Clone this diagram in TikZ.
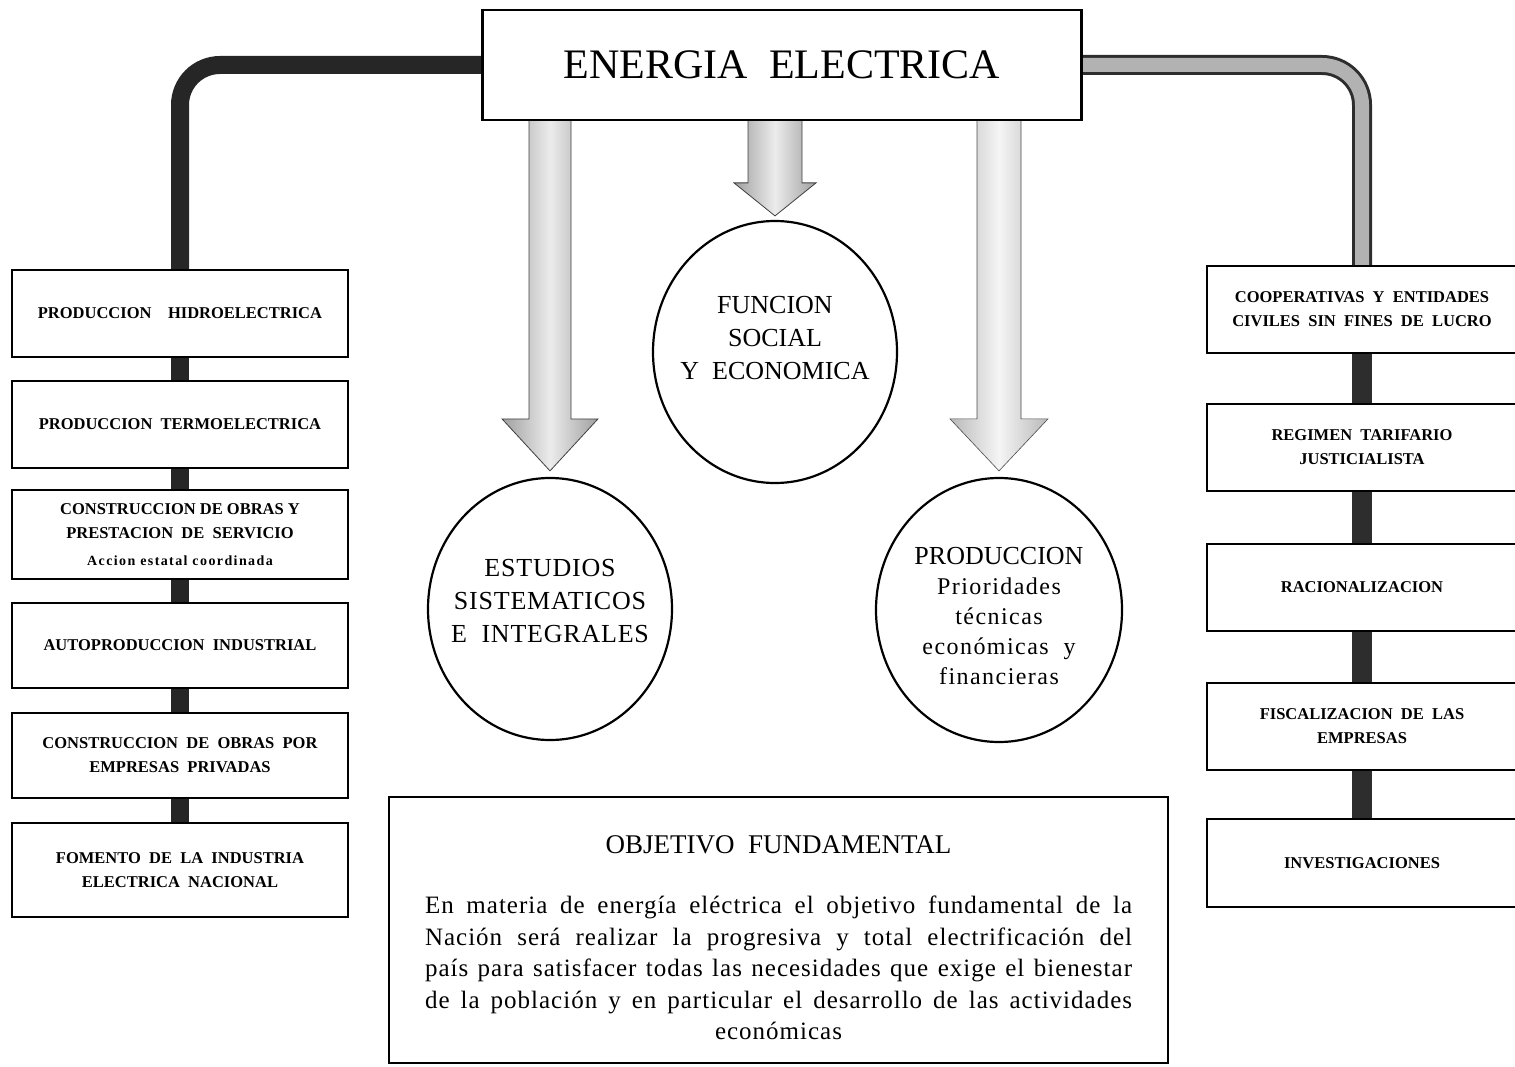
\documentclass[tikz,border=0pt]{standalone}
\usepackage{fontspec}
\setmainfont{Liberation Serif}
\usetikzlibrary{positioning,backgrounds,calc,shapes.geometric}

% shaded block arrow from the lower edge #2 down to the tip #3
\newcommand\blockdown[6]{%
  \path[#1] let \p1=(#2), \p2=(#3) in
    (\x2-#4,\y1) -- (\x2-#4,\y2+#6) -- (\x2-#5,\y2+#6) -- (\p2)
    -- (\x2+#5,\y2+#6) -- (\x2+#4,\y2+#6) -- (\x2+#4,\y1) -- cycle;}
\newcommand\jline[1]{\makebox[707pt][s]{#1}}

\begin{document}
\begin{tikzpicture}[x=1pt,y=-1pt,
    box/.style={draw, line width=2.4pt, fill=white, align=center,
      inner sep=0pt, outer sep=0pt, font=\bfseries\fontsize{16.5}{24}\selectfont},
    leftbox/.style={box, minimum width=336pt, minimum height=87pt},
    rightbox/.style={box, minimum width=310pt, minimum height=87pt},
    oval/.style={ellipse, draw, line width=2.2pt, fill=white,
      minimum width=244pt, minimum height=262pt},
    ovaltext/.style={align=center, font=\fontsize{26}{33}\selectfont},
    darkpipe/.style={draw=black!85, line width=18pt, rounded corners=40pt},
    greypipe/.style={draw=gray!35!black, double=gray!60,
      double distance=14pt, line width=3pt, rounded corners=40pt},
    darkstub/.style={draw=black!85, line width=18pt},
    greystub/.style={draw=gray!35!black, line width=20pt},
    blockarrow/.style={draw=gray!50!black, line width=0.8pt,
      left color=gray!75, right color=gray!75, middle color=gray!15},
    lightarrow/.style={draw=gray!60!black, line width=0.6pt,
      left color=gray!55, right color=gray!55, middle color=gray!8}]
  \useasboundingbox (0,0) rectangle (1515,1067);

  \node[box, minimum width=599pt, minimum height=110pt,
    font=\fontsize{42}{42}\selectfont] (energia) at (782,65) {ENERGIA\ \ ELECTRICA};

  % the three ovals
  \node[oval] (funcion) at (775,352) {};
  \node[oval] (estudios) at (550,609) {};
  \node[oval, minimum width=246pt, minimum height=264pt] (produccion) at (999,610) {};
  \node[ovaltext] (funciontext) at ([yshift=14pt]funcion.center)
    {FUNCION\\SOCIAL\\Y\ \ ECONOMICA};
  \node[ovaltext, font=\fontsize{26}{33}\selectfont\addfontfeature{LetterSpace=3}] (estudiostext)
    at ([yshift=8pt]estudios.center) {ESTUDIOS\\SISTEMATICOS\\E\ \ INTEGRALES};
  \node[ovaltext, font=\fontsize{24}{30}\selectfont\addfontfeature{LetterSpace=6}] (producciontext)
    at ([yshift=-6pt]produccion.center)
    {{\fontsize{26}{30}\selectfont\addfontfeature{LetterSpace=0} PRODUCCION}\\Prioridades\\técnicas\\económicas\ \ y\\financieras};

  % left column
  \node[leftbox] (hidro) at (180,313.5) {PRODUCCION\quad HIDROELECTRICA};
  \node[leftbox, below=24pt of hidro] (termo) {PRODUCCION\ \ TERMOELECTRICA};
  \node[leftbox, below=22pt of termo, minimum height=89pt] (obras)
    {CONSTRUCCION DE OBRAS Y\\PRESTACION\ \ DE\ \ SERVICIO\\[3pt]{\fontsize{14}{14}\selectfont\addfontfeature{LetterSpace=10}Accion estatal coordinada}};
  \node[leftbox, below=24pt of obras, minimum height=85pt] (auto) {AUTOPRODUCCION\ \ INDUSTRIAL};
  \node[leftbox, below=25pt of auto, minimum height=85pt] (privadas)
    {CONSTRUCCION\ \ DE\ \ OBRAS\ \ POR\\EMPRESAS\ \ PRIVADAS};
  \node[leftbox, below=25pt of privadas, minimum height=94pt] (fomento)
    {FOMENTO\ \ DE\ \ LA\ \ INDUSTRIA\\ELECTRICA\ \ NACIONAL};

  % right column
  \node[rightbox] (coop) at (1362,309.5) {COOPERATIVAS\ \ Y\ \ ENTIDADES\\CIVILES\ \ SIN\ \ FINES\ \ DE\ \ LUCRO};
  \node[rightbox, below=51pt of coop] (tarifa) {REGIMEN\ \ TARIFARIO\\JUSTICIALISTA};
  \node[rightbox, below=53pt of tarifa] (racional) {RACIONALIZACION};
  \node[rightbox, below=52pt of racional] (fiscal) {FISCALIZACION\ \ DE\ \ LAS\\EMPRESAS};
  \node[rightbox, below=49pt of fiscal, minimum height=88pt] (investig) {INVESTIGACIONES};

  % objective
  \node[box, minimum width=779pt, minimum height=266pt] (objetivo) at (778.5,930) {};
  \node[font=\fontsize{27}{27}\selectfont] (objetivotitle)
    at ([yshift=85pt]objetivo.center) {OBJETIVO\ \ FUNDAMENTAL};
  \node[align=center, font=\fontsize{25}{31.5}\selectfont\addfontfeature{LetterSpace=4}] (objetivotext)
    at ([yshift=-38pt]objetivo.center)
    {\jline{En materia de energía eléctrica el objetivo fundamental de la}\\
     \jline{Nación será realizar la progresiva y total electrificación del}\\
     \jline{país para satisfacer todas las necesidades que exige el bienestar}\\
     \jline{de la población y en particular el desarrollo de las actividades}\\
     económicas};

  \begin{scope}[on background layer]
    \draw[darkpipe] (energia.west) -| (hidro.north);
    \draw[greypipe] (energia.east) -| (coop.north);
    \foreach \a/\b in {hidro/termo, termo/obras, obras/auto, auto/privadas, privadas/fomento}
      \draw[darkstub] (\a) -- (\b);
    \foreach \a/\b in {coop/tarifa, tarifa/racional, racional/fiscal, fiscal/investig}
      \draw[greystub] (\a) -- (\b);
    \blockdown{blockarrow}{energia.south}{[yshift=6pt]estudios.north}{21pt}{48pt}{52pt}
    \blockdown{blockarrow}{energia.south}{[yshift=4pt]funcion.north}{27pt}{41pt}{33pt}
    \blockdown{lightarrow}{energia.south}{[yshift=6pt]produccion.north}{22pt}{49pt}{52pt}
  \end{scope}
\end{tikzpicture}
\end{document}
